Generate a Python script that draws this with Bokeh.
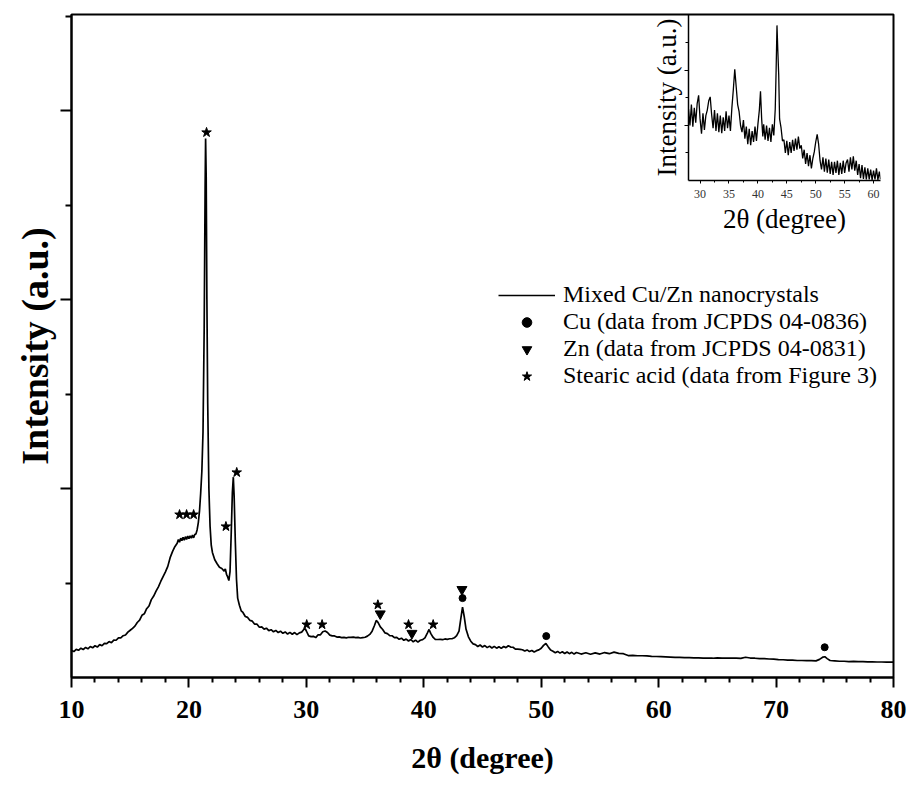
from bokeh.plotting import figure
from bokeh.models import Range1d, FixedTicker, Legend, LegendItem, CustomJSTickFormatter
from bokeh.layouts import column
from bokeh.embed import file_html
from bokeh.resources import INLINE

FONT = "Liberation Serif"

# ---------------- data ----------------
main_2theta = [
    10.0, 10.2, 10.4, 10.6, 10.8, 11.0, 11.2, 11.4, 11.6, 11.8, 12.0, 12.2, 12.4, 12.6, 12.8,
    13.0, 13.2, 13.4, 13.6, 13.8, 14.0, 14.2, 14.4, 14.6, 14.8, 15.0, 15.2, 15.4, 15.6, 15.8,
    16.0, 16.2, 16.4, 16.6, 16.8, 17.0, 17.2, 17.4, 17.6, 17.8, 18.0, 18.2, 18.4, 18.6, 18.8,
    19.0, 19.1, 19.2, 19.3, 19.4, 19.5, 19.6, 19.7, 19.8, 19.9, 20.0, 20.1, 20.2, 20.3, 20.4,
    20.5, 20.6, 20.7, 20.8, 20.9, 21.0, 21.1, 21.2, 21.3, 21.38, 21.42, 21.47, 21.53, 21.6, 21.7,
    21.8, 21.9, 22.0, 22.2, 22.4, 22.6, 22.8, 23.0, 23.1, 23.2, 23.3, 23.4, 23.5, 23.6, 23.7,
    23.78, 23.85, 23.95, 24.05, 24.15, 24.3, 24.45, 24.6, 24.8, 25.0, 25.2, 25.4, 25.6, 25.8, 26.0,
    26.2, 26.4, 26.6, 26.8, 27.0, 27.2, 27.4, 27.6, 27.8, 28.0, 28.2, 28.4, 28.6, 28.8, 29.0,
    29.2, 29.4, 29.6, 29.8, 29.9, 30.0, 30.2, 30.4, 30.6, 30.8, 31.0, 31.2, 31.4, 31.6, 31.8,
    32.0, 32.2, 32.4, 32.6, 32.8, 33.0, 33.2, 33.4, 33.6, 33.8, 34.0, 34.2, 34.4, 34.6, 34.8,
    35.0, 35.2, 35.4, 35.6, 35.8, 35.95, 36.1, 36.3, 36.5, 36.7, 36.9, 37.1, 37.3, 37.5, 37.7,
    37.9, 38.1, 38.3, 38.5, 38.7, 38.9, 39.1, 39.3, 39.5, 39.7, 39.9, 40.1, 40.3, 40.45, 40.6,
    40.8, 41.0, 41.2, 41.4, 41.6, 41.8, 42.0, 42.2, 42.4, 42.6, 42.8, 43.0, 43.15, 43.3, 43.45,
    43.6, 43.8, 44.0, 44.2, 44.4, 44.6, 44.8, 45.0, 45.2, 45.4, 45.6, 45.8, 46.0, 46.2, 46.4,
    46.6, 46.8, 47.0, 47.2, 47.4, 47.6, 47.8, 48.0, 48.2, 48.4, 48.6, 48.8, 49.0, 49.2, 49.4,
    49.6, 49.8, 50.0, 50.2, 50.4, 50.6, 50.8, 51.0, 51.2, 51.4, 51.6, 51.8, 52.0, 52.2, 52.4,
    52.6, 52.8, 53.0, 53.4, 53.8, 54.2, 54.6, 55.0, 55.4, 55.8, 56.2, 56.6, 57.0, 57.4, 57.8,
    58.2, 58.6, 59.0, 59.4, 59.8, 60.2, 60.6, 61.0, 61.4, 61.8, 62.2, 62.6, 63.0, 63.4, 63.8,
    64.2, 64.6, 65.0, 65.4, 65.8, 66.2, 66.6, 67.0, 67.4, 67.8, 68.2, 68.6, 69.0, 69.4, 69.8,
    70.2, 70.6, 71.0, 71.4, 71.8, 72.2, 72.6, 73.0, 73.4, 73.7, 74.0, 74.15, 74.35, 74.6, 75.0,
    75.4, 75.8, 76.2, 76.6, 77.0, 77.4, 77.8, 78.2, 78.6, 79.0, 79.4, 79.8, 80.0,
]
main_intensity = [
    143, 137, 149, 144, 155, 148, 159, 152, 164, 157, 168, 161, 174, 168, 181,
    179, 190, 184, 198, 197, 210, 210, 221, 225, 240, 250, 260, 272, 291, 303,
    329, 337, 364, 378, 412, 431, 457, 480, 508, 534, 559, 588, 634, 666, 692,
    710, 730, 716, 737, 724, 742, 727, 745, 731, 748, 734, 750, 737, 754, 739,
    757, 760, 782, 820, 880, 975, 1090, 1300, 1850, 2600, 2852, 2650, 2000, 1450, 1000,
    800, 700, 662, 623, 602, 583, 577, 563, 574, 546, 532, 513, 560, 760, 980,
    1060, 960, 720, 520, 420, 382, 353, 344, 323, 318, 302, 298, 282, 282, 266,
    268, 256, 261, 248, 253, 242, 249, 238, 245, 234, 241, 230, 239, 229, 238,
    227, 236, 240, 255, 258, 246, 220, 216, 218, 211, 226, 226, 242, 246, 238,
    224, 220, 220, 214, 215, 211, 212, 210, 213, 212, 214, 211, 212, 209, 211,
    213, 219, 228, 245, 275, 302, 292, 268, 254, 236, 232, 222, 221, 211, 212,
    202, 208, 197, 203, 193, 201, 189, 198, 187, 197, 200, 210, 235, 254, 232,
    212, 201, 201, 202, 200, 204, 202, 205, 205, 210, 222, 245, 310, 372, 320,
    255, 215, 192, 178, 174, 164, 172, 161, 169, 158, 166, 156, 165, 155, 163,
    154, 164, 158, 168, 161, 160, 150, 150, 149, 147, 140, 146, 137, 143, 135,
    142, 146, 155, 170, 180, 162, 145, 139, 131, 138, 129, 136, 127, 135, 126,
    133, 124, 132, 124, 131, 123, 130, 124, 132, 126, 134, 128, 126, 116, 117,
    115, 115, 114, 112, 111, 110, 109, 108, 107, 106, 105, 105, 104, 104, 103,
    103, 102, 104, 103, 103, 102, 102, 101, 107, 103, 102, 100, 100, 98, 97,
    95, 94, 92, 92, 90, 90, 89, 89, 88, 96, 108, 110, 100, 90, 88,
    86, 86, 84, 85, 84, 84, 83, 83, 82, 82, 81, 82, 81,
]

cu_2theta = [43.3, 50.43, 74.14]
cu_mark = [420, 219, 160]
zn_2theta = [36.29, 38.99, 43.25]
zn_mark = [337, 234, 466]
sa_2theta = [19.2, 19.8, 20.4, 21.5, 23.15, 24.07, 30.03, 31.34, 36.09, 38.7, 40.8]
sa_mark = [862, 862, 862, 2884, 799, 1085, 280, 280, 385, 280, 280]

inset_2theta = [
    28.0, 28.25, 28.5, 28.75, 29.0, 29.25, 29.5, 29.75, 30.0, 30.25, 30.5, 30.75, 31.0, 31.25, 31.5,
    31.75, 32.0, 32.25, 32.5, 32.75, 33.0, 33.25, 33.5, 33.75, 34.0, 34.25, 34.5, 34.75, 35.0, 35.25,
    35.5, 35.75, 36.0, 36.25, 36.5, 36.75, 37.0, 37.25, 37.5, 37.75, 38.0, 38.25, 38.5, 38.75, 39.0,
    39.25, 39.5, 39.75, 40.0, 40.25, 40.45, 40.65, 40.85, 41.0, 41.25, 41.5, 41.75, 42.0, 42.25, 42.5,
    42.75, 43.0, 43.15, 43.3, 43.45, 43.6, 43.75, 44.0, 44.25, 44.5, 44.75, 45.0, 45.25, 45.5, 45.75,
    46.0, 46.25, 46.5, 46.75, 47.0, 47.25, 47.5, 47.75, 48.0, 48.25, 48.5, 48.75, 49.0, 49.25, 49.5,
    49.75, 50.0, 50.25, 50.5, 50.75, 51.0, 51.25, 51.5, 51.75, 52.0, 52.25, 52.5, 52.75, 53.0, 53.25,
    53.5, 53.75, 54.0, 54.25, 54.5, 54.75, 55.0, 55.25, 55.5, 55.75, 56.0, 56.25, 56.5, 56.75, 57.0,
    57.25, 57.5, 57.75, 58.0, 58.25, 58.5, 58.75, 59.0, 59.25, 59.5, 59.75, 60.0, 60.25, 60.5, 60.75,
    61.0, 61.2,
]
inset_intensity = [
    230, 200, 238, 198, 232, 205, 240, 255, 212, 185, 222, 192, 218, 228, 245,
    252, 220, 195, 228, 190, 222, 188, 218, 186, 215, 190, 226, 195, 218, 190,
    232, 265, 302, 270, 238, 225, 200, 188, 210, 176, 198, 166, 194, 164, 190,
    170, 198, 172, 202, 228, 262, 212, 180, 202, 174, 200, 172, 196, 170, 202,
    182, 230, 300, 382, 335, 292, 212, 196, 172, 174, 150, 172, 146, 170, 150,
    174, 154, 176, 156, 180, 158, 164, 140, 156, 130, 150, 126, 146, 122, 140,
    152, 170, 184, 166, 136, 120, 142, 116, 140, 114, 138, 112, 134, 110, 134,
    114, 136, 110, 132, 112, 136, 114, 132, 138, 116, 142, 120, 144, 118, 136,
    110, 130, 104, 128, 103, 124, 102, 122, 102, 120, 101, 118, 102, 122, 101,
    116, 102,
]

x_ticks = [10, 20, 30, 40, 50, 60, 70, 80]
x_minor = [12, 14, 16, 18, 22, 24, 26, 28, 32, 34, 36, 38, 42, 44, 46, 48,
           52, 54, 56, 58, 62, 64, 66, 68, 72, 74, 76, 78]
inset_x_ticks = [30, 35, 40, 45, 50, 55, 60]

blank = CustomJSTickFormatter(code="return ''")

# ---------------- main figure ----------------
p = figure(width=907, height=785, x_range=Range1d(10, 80), y_range=Range1d(0, 3508),
           output_backend="svg", toolbar_location=None,
           min_border_left=71, min_border_right=14, min_border_top=14, min_border_bottom=108)
p.grid.visible = False
p.outline_line_color = "black"
p.outline_line_width = 2
p.background_fill_color = "white"

line_r = p.line(main_2theta, main_intensity, line_color="black", line_width=1.7)
cu_r = p.scatter(cu_2theta, cu_mark, marker="circle", size=7, fill_color="black", line_color="black")
zn_r = p.scatter(zn_2theta, zn_mark, marker="inverted_triangle", size=10, fill_color="black", line_color="black")
sa_r = p.scatter(sa_2theta, sa_mark, marker="star", size=10, fill_color="black", line_color="black")

xa = p.xaxis[0]
xa.ticker = FixedTicker(ticks=x_ticks, minor_ticks=x_minor)
xa.axis_line_width = 2
xa.major_tick_line_width = 2
xa.minor_tick_line_width = 2
xa.major_tick_in = 0
xa.major_tick_out = 10
xa.minor_tick_in = 0
xa.minor_tick_out = 5
xa.major_label_text_font = FONT
xa.major_label_text_font_style = "bold"
xa.major_label_text_font_size = "26px"
xa.major_label_text_color = "black"
xa.major_label_standoff = 13
xa.axis_label = "2θ (degree)"
xa.axis_label_text_font = FONT
xa.axis_label_text_font_style = "bold"
xa.axis_label_text_font_size = "30px"
xa.axis_label_text_color = "black"
xa.axis_label_standoff = 20

ya = p.yaxis[0]
ya.ticker = FixedTicker(ticks=[1000, 2000, 3000], minor_ticks=[500, 1500, 2500, 3500])
ya.formatter = blank
ya.axis_line_width = 2
ya.major_tick_line_width = 2
ya.minor_tick_line_width = 2
ya.major_tick_in = 0
ya.major_tick_out = 11
ya.minor_tick_in = 0
ya.minor_tick_out = 6
ya.major_label_standoff = 0
ya.axis_label = "Intensity (a.u.)"
ya.axis_label_text_font = FONT
ya.axis_label_text_font_style = "bold"
ya.axis_label_text_font_size = "38px"
ya.axis_label_text_color = "black"
ya.axis_label_standoff = 5

legend = Legend(items=[
    LegendItem(label="Mixed Cu/Zn nanocrystals", renderers=[line_r]),
    LegendItem(label="Cu (data from JCPDS 04-0836)", renderers=[cu_r]),
    LegendItem(label="Zn (data from JCPDS 04-0831)", renderers=[zn_r]),
    LegendItem(label="Stearic acid (data from Figure 3)", renderers=[sa_r]),
], location=(427, 288))
legend.label_text_font = FONT
legend.label_text_font_size = "24px"
legend.label_text_color = "black"
legend.label_height = 24
legend.glyph_height = 24
legend.glyph_width = 57
legend.label_standoff = 8
legend.spacing = 0
legend.padding = 0
legend.margin = 0
legend.border_line_color = None
legend.background_fill_alpha = 0
p.add_layout(legend, "center")

# ---------------- inset ----------------
ins = figure(width=277, height=240, x_range=Range1d(28, 61.2), y_range=Range1d(100, 401.8),
             output_backend="svg", toolbar_location=None,
             min_border_left=71, min_border_right=2, min_border_top=14, min_border_bottom=60)
ins.margin = (-785, 0, 0, 617)
ins.grid.visible = False
ins.outline_line_color = None
ins.background_fill_alpha = 0
ins.border_fill_alpha = 0
ins.line(inset_2theta, inset_intensity, line_color="black", line_width=1.3)

ix = ins.xaxis[0]
ix.ticker = FixedTicker(ticks=inset_x_ticks, minor_ticks=[32.5, 37.5, 42.5, 47.5, 52.5, 57.5])
ix.axis_line_width = 1.5
ix.major_tick_in = 0
ix.major_tick_out = 3
ix.minor_tick_in = 0
ix.minor_tick_out = 2
ix.major_label_text_font = FONT
ix.major_label_text_font_size = "12px"
ix.major_label_text_color = "#333333"
ix.major_label_standoff = 6
ix.axis_label = "2θ (degree)"
ix.axis_label_text_font = FONT
ix.axis_label_text_font_style = "normal"
ix.axis_label_text_font_size = "27px"
ix.axis_label_text_color = "black"
ix.axis_label_standoff = 3

iy = ins.yaxis[0]
iy.ticker = FixedTicker(ticks=[200, 300], minor_ticks=[150, 250, 350])
iy.formatter = blank
iy.axis_line_width = 1.5
iy.major_tick_in = 0
iy.major_tick_out = 4
iy.minor_tick_in = 0
iy.minor_tick_out = 3
iy.major_label_standoff = 0
iy.axis_label = "Intensity (a.u.)"
iy.axis_label_text_font = FONT
iy.axis_label_text_font_style = "normal"
iy.axis_label_text_font_size = "27px"
iy.axis_label_text_color = "black"
iy.axis_label_standoff = 3

layout = column(p, ins)
open("out.html", "w").write(file_html(layout, INLINE))
